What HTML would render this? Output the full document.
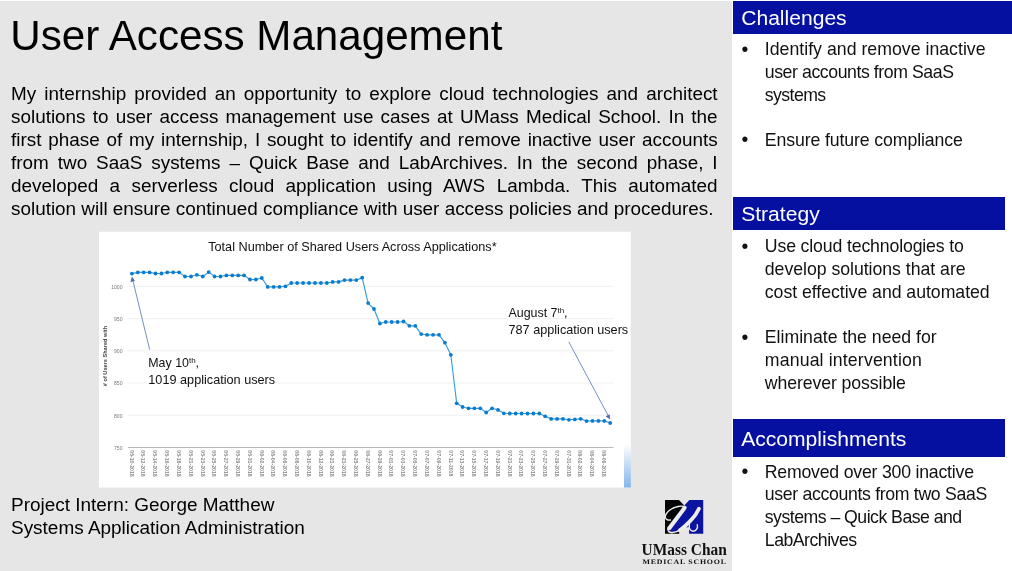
<!DOCTYPE html>
<html><head><meta charset="utf-8">
<style>
html,body{margin:0;padding:0;}
body{width:1012px;height:571px;overflow:hidden;background:#e7e6e6;position:relative;font-family:"Liberation Sans",sans-serif;color:#000;}
.abs{position:absolute;}
#topline{left:0;top:0;width:1012px;height:1px;background:#fdfdfd;z-index:5;}
#title{left:10.3px;top:11.6px;font-size:42.16px;line-height:48px;white-space:nowrap;}
#para{left:11px;top:83.3px;width:706.6px;font-size:18.9px;line-height:22.9px;}
#para div{text-align:justify;text-align-last:justify;white-space:nowrap;}
#para div.last{text-align-last:left;}
#panel{left:732.4px;top:0;width:280px;height:571px;background:#fff;}
.bar{position:absolute;left:733.1px;background:#0510a0;color:#fff;font-size:21.08px;white-space:nowrap;padding-left:8.1px;box-sizing:border-box;}
.ln{position:absolute;left:764.8px;font-size:17.7px;line-height:22.7px;color:#111;white-space:nowrap;}
.dot{position:absolute;left:741.6px;font-size:19.5px;line-height:22.7px;color:#111;}
#foot{left:11px;top:492.5px;font-size:18.97px;line-height:23.6px;white-space:nowrap;}
</style></head><body>
<div id="topline" class="abs"></div>
<div id="title" class="abs">User Access Management</div>
<div id="para" class="abs">
<div>My internship provided an opportunity to explore cloud technologies and architect</div>
<div>solutions to user access management use cases at UMass Medical School. In the</div>
<div>first phase of my internship, I sought to identify and remove inactive user accounts</div>
<div>from two SaaS systems – Quick Base and LabArchives. In the second phase, I</div>
<div>developed a serverless cloud application using AWS Lambda. This automated</div>
<div class="last">solution will ensure continued compliance with user access policies and procedures.</div>
</div>
<div id="panel" class="abs"></div>
<svg class="abs" style="left:0;top:0" width="1012" height="571" viewBox="0 0 1012 571" font-family="Liberation Sans, sans-serif">
<defs><linearGradient id="gb" x1="0" y1="0" x2="0" y2="1"><stop offset="0" stop-color="#ffffff"/><stop offset="1" stop-color="#82b6e8"/></linearGradient></defs>
<rect x="99" y="231.7" width="531.7" height="255.8" fill="#fff"/>
<rect x="624" y="444" width="6.9" height="43.5" fill="url(#gb)"/>
<g stroke="#efefef" stroke-width="1"><line x1="128" x2="613.5" y1="286.3" y2="286.3"/><line x1="128" x2="613.5" y1="318.7" y2="318.7"/><line x1="128" x2="613.5" y1="350.8" y2="350.8"/><line x1="128" x2="613.5" y1="383.0" y2="383.0"/><line x1="128" x2="613.5" y1="415.2" y2="415.2"/></g>
<line x1="128" x2="613.5" y1="447.5" y2="447.5" stroke="#b9b9b9" stroke-width="1.2"/>
<g font-size="5.1" fill="#7a7a7a"><text x="122.5" y="288.8" text-anchor="end">1000</text><text x="122.5" y="321.0" text-anchor="end">950</text><text x="122.5" y="353.2" text-anchor="end">900</text><text x="122.5" y="385.4" text-anchor="end">850</text><text x="122.5" y="417.6" text-anchor="end">800</text><text x="122.5" y="449.8" text-anchor="end">750</text></g>
<g font-size="5.15" fill="#8c8c8c" font-weight="bold"><text transform="translate(129.6,450.3) rotate(90)">05-10-2018</text><text transform="translate(141.4,450.3) rotate(90)">05-12-2018</text><text transform="translate(153.2,450.3) rotate(90)">05-14-2018</text><text transform="translate(165.0,450.3) rotate(90)">05-16-2018</text><text transform="translate(176.8,450.3) rotate(90)">05-18-2018</text><text transform="translate(188.7,450.3) rotate(90)">05-21-2018</text><text transform="translate(200.5,450.3) rotate(90)">05-23-2018</text><text transform="translate(212.3,450.3) rotate(90)">05-25-2018</text><text transform="translate(224.1,450.3) rotate(90)">05-27-2018</text><text transform="translate(235.9,450.3) rotate(90)">05-29-2018</text><text transform="translate(247.7,450.3) rotate(90)">05-31-2018</text><text transform="translate(259.5,450.3) rotate(90)">06-02-2018</text><text transform="translate(271.3,450.3) rotate(90)">06-04-2018</text><text transform="translate(283.1,450.3) rotate(90)">06-06-2018</text><text transform="translate(294.9,450.3) rotate(90)">06-08-2018</text><text transform="translate(306.8,450.3) rotate(90)">06-10-2018</text><text transform="translate(318.6,450.3) rotate(90)">06-12-2018</text><text transform="translate(330.4,450.3) rotate(90)">06-21-2018</text><text transform="translate(342.2,450.3) rotate(90)">06-23-2018</text><text transform="translate(354.0,450.3) rotate(90)">06-25-2018</text><text transform="translate(365.8,450.3) rotate(90)">06-27-2018</text><text transform="translate(377.6,450.3) rotate(90)">06-29-2018</text><text transform="translate(389.4,450.3) rotate(90)">07-01-2018</text><text transform="translate(401.2,450.3) rotate(90)">07-03-2018</text><text transform="translate(413.0,450.3) rotate(90)">07-05-2018</text><text transform="translate(424.8,450.3) rotate(90)">07-07-2018</text><text transform="translate(436.7,450.3) rotate(90)">07-09-2018</text><text transform="translate(448.5,450.3) rotate(90)">07-11-2018</text><text transform="translate(460.3,450.3) rotate(90)">07-13-2018</text><text transform="translate(472.1,450.3) rotate(90)">07-15-2018</text><text transform="translate(483.9,450.3) rotate(90)">07-17-2018</text><text transform="translate(495.7,450.3) rotate(90)">07-19-2018</text><text transform="translate(507.5,450.3) rotate(90)">07-21-2018</text><text transform="translate(519.3,450.3) rotate(90)">07-23-2018</text><text transform="translate(531.1,450.3) rotate(90)">07-25-2018</text><text transform="translate(543.0,450.3) rotate(90)">07-27-2018</text><text transform="translate(554.8,450.3) rotate(90)">07-29-2018</text><text transform="translate(566.6,450.3) rotate(90)">07-31-2018</text><text transform="translate(578.4,450.3) rotate(90)">08-02-2018</text><text transform="translate(590.2,450.3) rotate(90)">08-04-2018</text><text transform="translate(602.0,450.3) rotate(90)">08-06-2018</text></g>
<text transform="translate(107.2,356) rotate(-90)" text-anchor="middle" font-size="5.6" font-weight="bold" fill="#444">#&#160;of Users Shared with</text>
<polyline points="131.9,273.6 137.8,272.4 143.7,272.4 149.6,272.4 155.5,273.5 161.4,273.5 167.3,272.3 173.2,272.3 179.1,272.3 185.0,276.5 191.0,276.5 196.9,274.8 202.8,276.5 208.7,272.1 214.6,276.5 220.5,276.5 226.4,275.4 232.3,275.4 238.2,275.4 244.1,275.4 250.0,279.5 255.9,279.5 261.8,278.0 267.7,286.9 273.6,286.9 279.5,286.9 285.4,286.3 291.3,283.0 297.2,283.0 303.1,283.0 309.1,283.0 315.0,283.0 320.9,283.0 326.8,283.0 332.7,281.9 338.6,281.9 344.5,280.1 350.4,280.1 356.3,280.1 362.2,277.7 368.1,303.1 374.0,309.0 379.9,323.5 385.8,322.0 391.7,322.0 397.6,322.0 403.5,321.5 409.4,325.8 415.3,325.8 421.2,334.1 427.1,334.8 433.1,334.8 439.0,334.8 444.9,342.7 450.8,354.8 456.7,403.3 462.6,407.0 468.5,408.3 474.4,408.3 480.3,408.3 486.2,412.5 492.1,408.3 498.0,409.9 503.9,413.3 509.8,413.5 515.7,413.5 521.6,413.5 527.5,413.5 533.4,413.5 539.3,413.5 545.2,416.3 551.2,418.9 557.1,418.9 563.0,418.9 568.9,419.8 574.8,419.4 580.7,418.8 586.6,421.1 592.5,420.9 598.4,420.9 604.3,420.9 610.2,423.0" fill="none" stroke="#369de2" stroke-width="1.15" stroke-linejoin="round"/>
<g fill="#0b7ccc"><circle cx="131.9" cy="273.6" r="1.9"/><circle cx="137.8" cy="272.4" r="1.9"/><circle cx="143.7" cy="272.4" r="1.9"/><circle cx="149.6" cy="272.4" r="1.9"/><circle cx="155.5" cy="273.5" r="1.9"/><circle cx="161.4" cy="273.5" r="1.9"/><circle cx="167.3" cy="272.3" r="1.9"/><circle cx="173.2" cy="272.3" r="1.9"/><circle cx="179.1" cy="272.3" r="1.9"/><circle cx="185.0" cy="276.5" r="1.9"/><circle cx="191.0" cy="276.5" r="1.9"/><circle cx="196.9" cy="274.8" r="1.9"/><circle cx="202.8" cy="276.5" r="1.9"/><circle cx="208.7" cy="272.1" r="1.9"/><circle cx="214.6" cy="276.5" r="1.9"/><circle cx="220.5" cy="276.5" r="1.9"/><circle cx="226.4" cy="275.4" r="1.9"/><circle cx="232.3" cy="275.4" r="1.9"/><circle cx="238.2" cy="275.4" r="1.9"/><circle cx="244.1" cy="275.4" r="1.9"/><circle cx="250.0" cy="279.5" r="1.9"/><circle cx="255.9" cy="279.5" r="1.9"/><circle cx="261.8" cy="278.0" r="1.9"/><circle cx="267.7" cy="286.9" r="1.9"/><circle cx="273.6" cy="286.9" r="1.9"/><circle cx="279.5" cy="286.9" r="1.9"/><circle cx="285.4" cy="286.3" r="1.9"/><circle cx="291.3" cy="283.0" r="1.9"/><circle cx="297.2" cy="283.0" r="1.9"/><circle cx="303.1" cy="283.0" r="1.9"/><circle cx="309.1" cy="283.0" r="1.9"/><circle cx="315.0" cy="283.0" r="1.9"/><circle cx="320.9" cy="283.0" r="1.9"/><circle cx="326.8" cy="283.0" r="1.9"/><circle cx="332.7" cy="281.9" r="1.9"/><circle cx="338.6" cy="281.9" r="1.9"/><circle cx="344.5" cy="280.1" r="1.9"/><circle cx="350.4" cy="280.1" r="1.9"/><circle cx="356.3" cy="280.1" r="1.9"/><circle cx="362.2" cy="277.7" r="1.9"/><circle cx="368.1" cy="303.1" r="1.9"/><circle cx="374.0" cy="309.0" r="1.9"/><circle cx="379.9" cy="323.5" r="1.9"/><circle cx="385.8" cy="322.0" r="1.9"/><circle cx="391.7" cy="322.0" r="1.9"/><circle cx="397.6" cy="322.0" r="1.9"/><circle cx="403.5" cy="321.5" r="1.9"/><circle cx="409.4" cy="325.8" r="1.9"/><circle cx="415.3" cy="325.8" r="1.9"/><circle cx="421.2" cy="334.1" r="1.9"/><circle cx="427.1" cy="334.8" r="1.9"/><circle cx="433.1" cy="334.8" r="1.9"/><circle cx="439.0" cy="334.8" r="1.9"/><circle cx="444.9" cy="342.7" r="1.9"/><circle cx="450.8" cy="354.8" r="1.9"/><circle cx="456.7" cy="403.3" r="1.9"/><circle cx="462.6" cy="407.0" r="1.9"/><circle cx="468.5" cy="408.3" r="1.9"/><circle cx="474.4" cy="408.3" r="1.9"/><circle cx="480.3" cy="408.3" r="1.9"/><circle cx="486.2" cy="412.5" r="1.9"/><circle cx="492.1" cy="408.3" r="1.9"/><circle cx="498.0" cy="409.9" r="1.9"/><circle cx="503.9" cy="413.3" r="1.9"/><circle cx="509.8" cy="413.5" r="1.9"/><circle cx="515.7" cy="413.5" r="1.9"/><circle cx="521.6" cy="413.5" r="1.9"/><circle cx="527.5" cy="413.5" r="1.9"/><circle cx="533.4" cy="413.5" r="1.9"/><circle cx="539.3" cy="413.5" r="1.9"/><circle cx="545.2" cy="416.3" r="1.9"/><circle cx="551.2" cy="418.9" r="1.9"/><circle cx="557.1" cy="418.9" r="1.9"/><circle cx="563.0" cy="418.9" r="1.9"/><circle cx="568.9" cy="419.8" r="1.9"/><circle cx="574.8" cy="419.4" r="1.9"/><circle cx="580.7" cy="418.8" r="1.9"/><circle cx="586.6" cy="421.1" r="1.9"/><circle cx="592.5" cy="420.9" r="1.9"/><circle cx="598.4" cy="420.9" r="1.9"/><circle cx="604.3" cy="420.9" r="1.9"/><circle cx="610.2" cy="423.0" r="1.9"/></g>
<g stroke="#6582bf" stroke-width="0.9" fill="#4c69a9">
<line x1="149.7" y1="349.7" x2="132.5" y2="279"/><polygon points="132,276.4 134.9,281.1 130.4,282.1" stroke="none"/>
<line x1="568.8" y1="341.9" x2="608.9" y2="417"/><polygon points="610.1,419.2 605.6,416.5 609.6,414.3" stroke="none"/>
</g>
<g fill="#111">
<text x="352.4" y="250.8" text-anchor="middle" font-size="12.4" textLength="288.4" lengthAdjust="spacingAndGlyphs">Total Number of Shared Users Across Applications*</text>
<text x="148.3" y="367.1" font-size="12.4">May 10<tspan font-size="8" dy="-4">th</tspan><tspan dy="4">,</tspan></text>
<text x="148.3" y="383.5" font-size="12.4" textLength="126.9" lengthAdjust="spacingAndGlyphs">1019 application users</text>
<text x="508.5" y="316.9" font-size="12.4">August 7<tspan font-size="8" dy="-4">th</tspan><tspan dy="4">,</tspan></text>
<text x="508.5" y="333.7" font-size="12.4" textLength="119.7" lengthAdjust="spacingAndGlyphs">787 application users</text>
</g>
</svg>
<div class="bar" style="top:1px;width:279px;height:33.3px;line-height:34.8px;">Challenges</div>
<div class="bar" style="top:196.9px;width:272px;height:33.3px;line-height:34.8px;">Strategy</div>
<div class="bar" style="top:418.8px;width:272px;height:38.4px;line-height:40.2px;">Accomplishments</div>
<span class="dot" style="top:37.85px">•</span><span class="ln" id="l0" style="top:38.25px;letter-spacing:0.020px">Identify and remove inactive</span>
<span class="ln" id="l1" style="top:60.90px;letter-spacing:-0.427px">user accounts from SaaS</span>
<span class="ln" id="l2" style="top:83.50px;letter-spacing:-0.578px">systems</span>
<span class="dot" style="top:128.30px">•</span><span class="ln" id="l3" style="top:128.70px;letter-spacing:-0.110px">Ensure future compliance</span>
<span class="dot" style="top:234.80px">•</span><span class="ln" id="l4" style="top:235.20px;letter-spacing:-0.144px">Use cloud technologies to</span>
<span class="ln" id="l5" style="top:257.90px;letter-spacing:-0.032px">develop solutions that are</span>
<span class="ln" id="l6" style="top:280.60px;letter-spacing:-0.035px">cost effective and automated</span>
<span class="dot" style="top:325.90px">•</span><span class="ln" id="l7" style="top:326.30px;letter-spacing:-0.008px">Eliminate the need for</span>
<span class="ln" id="l8" style="top:349.30px;letter-spacing:0.147px">manual intervention</span>
<span class="ln" id="l9" style="top:372.20px;letter-spacing:-0.095px">wherever possible</span>
<span class="dot" style="top:460.20px">•</span><span class="ln" id="l10" style="top:460.60px;letter-spacing:-0.214px">Removed over 300 inactive</span>
<span class="ln" id="l11" style="top:483.30px;letter-spacing:-0.331px">user accounts from two SaaS</span>
<span class="ln" id="l12" style="top:506.00px;letter-spacing:-0.521px">systems – Quick Base and</span>
<span class="ln" id="l13" style="top:528.70px;letter-spacing:-0.507px">LabArchives</span>

<div id="foot" class="abs">Project Intern: George Matthew<br>Systems Application Administration</div>
<svg class="abs" style="left:0;top:0" width="1012" height="571" viewBox="0 0 1012 571">
<g transform="translate(660,496) scale(0.073508)">
<path d="M68,55 L258,55 L330,130 L330,515 L68,515 Z" fill="#050505"/>
<path d="M400,55 L588,55 L588,515 L395,515 L395,425 L262,425 L262,490 L150,490 L110,450 L318,160 L330,130 Z" fill="#0a14a0"/>
<path d="M262,440 L395,440 L395,520 L262,520 Z" fill="#e7e6e6"/>
<g fill="none" stroke="#ececec" stroke-linecap="round" stroke-linejoin="round">
<path d="M334,160 C300,215 190,350 128,436" stroke-width="56"/>
<path d="M112,440 C95,480 130,502 175,497 C215,492 250,478 290,450" stroke-width="22"/>
<path d="M530,172 C505,225 465,285 425,325 C385,365 325,430 268,466" stroke-width="50"/>
<path d="M400,385 C385,465 440,492 478,472 C505,454 514,420 506,390" stroke-width="18"/>
<path d="M338,150 C300,125 200,140 125,198 C60,250 62,300 90,318 C105,327 125,330 142,327" stroke-width="19"/>
</g>
</g>
<g font-family="Liberation Serif, serif" font-weight="bold" fill="#111">
<text x="641.6" y="554.5" font-size="16.3" textLength="85.2" lengthAdjust="spacingAndGlyphs">UMass Chan</text>
<text transform="translate(642.5,563.6) scale(0.5)" text-rendering="geometricPrecision" font-size="13.6" letter-spacing="1.3" textLength="168.4" lengthAdjust="spacingAndGlyphs">MEDICAL SCHOOL</text>
</g>
</svg>
</body></html>
